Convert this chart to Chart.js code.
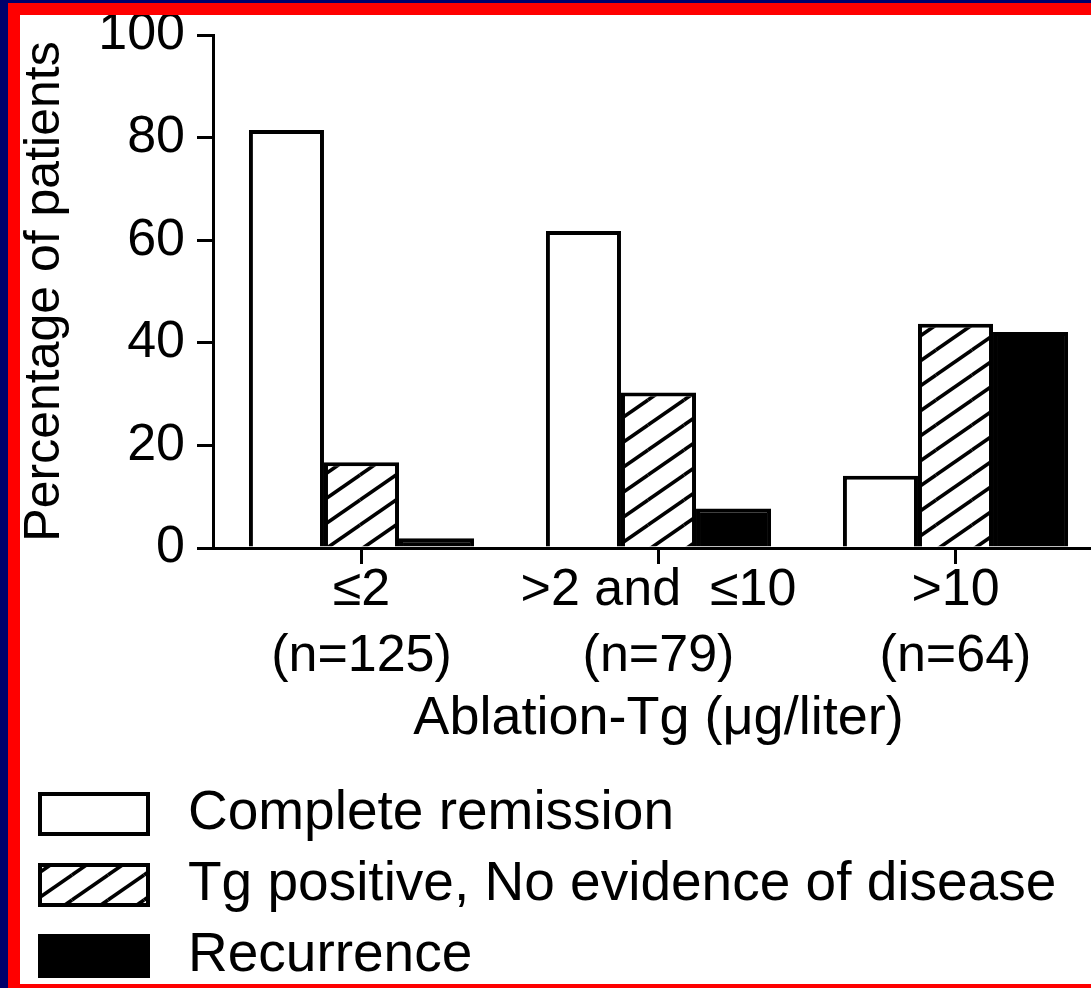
<!DOCTYPE html>
<html lang="en">
<head>
  <meta charset="UTF-8" />
  <title>Outcome by ablation-Tg</title>
  <script src="https://cdn.jsdelivr.net/npm/chart.js"></script>
  <style>
    * { box-sizing: border-box; margin: 0; padding: 0; }
    body {
      width: 1091px;
      height: 988px;
      overflow: hidden;
      background: #fff;
      position: relative;
    }
    #wrap { position: absolute; left: 0; top: 0; width: 1110px; height: 988px; }
    .frame {
      position: absolute; left: 0; top: 0;
      width: 1091px; height: 988px;
      border-top: 3px solid #00006b;
      border-left: 8px solid #00006b;
      pointer-events: none;
    }
    .frame div {
      width: 100%; height: 100%;
      border-top: 12px solid #f00;
      border-left: 12px solid #f00;
      border-bottom: 4px solid #f00;
    }
  </style>
</head>
<body>
  <div id="wrap"><canvas id="chart"></canvas></div>
  <div class="frame"><div></div></div>

  <script>
    // data
    const categories = [['≤2', '(n=125)'], ['>2 and  ≤10', '(n=79)'], ['>10', '(n=64)']];
    const remission = [81.5, 61.8, 14.1];
    const tgPositive = [16.7, 30.3, 43.7];
    const recurrence = [1.9, 7.7, 42.1];
    const yTicks = [0, 20, 40, 60, 80, 100];

    const FONT = '"Liberation Sans", Arial, sans-serif';

    // diagonal hatch fill for the Tg positive bars
    function hatch() {
      const w = 36, h = 25;
      const c = document.createElement('canvas');
      c.width = w; c.height = h;
      const g = c.getContext('2d');
      g.fillStyle = '#fff';
      g.fillRect(0, 0, w, h);
      g.strokeStyle = '#000';
      g.lineWidth = 3.6;
      for (const [dx, dy] of [[0, 0], [-w, 0], [w, 0], [0, -h], [0, h]]) {
        g.beginPath();
        g.moveTo(dx, h + dy);
        g.lineTo(w + dx, dy);
        g.stroke();
      }
      return g.createPattern(c, 'repeat');
    }

    // legend stacked under the axis, one row per series
    const stackedLegend = {
      id: 'stackedLegend',
      afterDraw(chart) {
        const ctx = chart.ctx;
        ctx.save();
        ctx.font = '55px ' + FONT;
        ctx.textBaseline = 'middle';
        chart.data.datasets.forEach((ds, i) => {
          const y = 792 + i * 71;
          ctx.fillStyle = ds.backgroundColor;
          ctx.fillRect(38, y, 112, 44);
          ctx.lineWidth = 4;
          ctx.strokeStyle = '#000';
          ctx.strokeRect(40, y + 2, 108, 40);
          ctx.fillStyle = '#000';
          ctx.fillText(ds.label, 188, y + 22);
        });
        ctx.restore();
      }
    };

    const barStyle = { borderColor: '#000', borderWidth: 4, categoryPercentage: 0.758, barPercentage: 1 };

    new Chart(document.getElementById('chart'), {
      type: 'bar',
      data: {
        labels: categories,
        datasets: [
          { label: 'Complete remission', data: remission, backgroundColor: '#fff', ...barStyle },
          { label: 'Tg positive, No evidence of disease', data: tgPositive, backgroundColor: hatch(), ...barStyle },
          { label: 'Recurrence', data: recurrence, backgroundColor: '#000', ...barStyle }
        ]
      },
      options: {
        responsive: true,
        maintainAspectRatio: false,
        animation: false,
        layout: { padding: { left: 20, top: 35, right: 6, bottom: 242 } },
        plugins: { legend: { display: false }, tooltip: { enabled: false } },
        scales: {
          x: {
            offset: true,
            afterFit: s => { s.height = 198; },
            grid: { offset: false, drawOnChartArea: false, color: '#000', lineWidth: 3, tickLength: 16 },
            border: { color: '#000', width: 3 },
            ticks: { color: '#000', padding: -6, font: { family: FONT, size: 52, lineHeight: 1.27 } },
            title: {
              display: true, text: 'Ablation-Tg (μg/liter)', color: '#000', padding: 0,
              font: { family: FONT, size: 54, lineHeight: 1 }
            }
          },
          y: {
            min: 0,
            max: 100,
            afterFit: s => { s.width = 193; },
            afterBuildTicks: s => { s.ticks = yTicks.map(v => ({ value: v })); },
            grid: { drawOnChartArea: false, color: '#000', lineWidth: 3, tickLength: 16 },
            border: { color: '#000', width: 3 },
            ticks: { color: '#000', padding: 12, font: { family: FONT, size: 52, lineHeight: 0.8 } },
            title: {
              display: true, text: 'Percentage of patients', color: '#000', padding: 0,
              font: { family: FONT, size: 50, lineHeight: 1 }
            }
          }
        }
      },
      plugins: [stackedLegend]
    });
  </script>
</body>
</html>
